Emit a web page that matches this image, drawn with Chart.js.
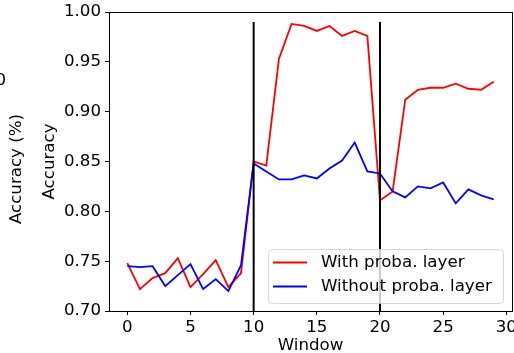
<!DOCTYPE html>
<html><head><meta charset="utf-8">
<script src="https://cdn.jsdelivr.net/npm/chart.js@4"></script>
<style>html,body{margin:0;padding:0;background:#fff;overflow:hidden}</style>
</head><body>
<canvas id="c" width="514" height="353"></canvas>
<script>
const windows = [0,1,2,3,4,5,6,7,8,9,10,11,12,13,14,15,16,17,18,19,20,21,22,23,24,25,26,27,28,29];
const withProba = [0.748,0.722,0.733,0.738,0.753,0.724,0.737,0.751,0.724,0.738,
                   0.850,0.846,0.953,0.988,0.986,0.981,0.986,0.976,0.981,0.976,
                   0.811,0.820,0.912,0.922,0.924,0.924,0.928,0.923,0.922,0.930];
const withoutProba = [0.745,0.744,0.745,0.725,0.736,0.747,0.722,0.732,0.720,0.746,
                      0.848,0.840,0.832,0.832,0.836,0.833,0.843,0.851,0.869,0.840,
                      0.838,0.820,0.814,0.825,0.823,0.829,0.808,0.822,0.816,0.812];
const boundaries = [10, 20];
const boundaryRange = [0.70, 0.99];
const xTicks = [0,5,10,15,20,25,30];
const yTicks = [0.70,0.75,0.80,0.85,0.90,0.95,1.00];
const seriesLabels = ['With proba. layer', 'Without proba. layer'];
const yTitle = 'Accuracy';
const xTitle = 'Window';
const strayLabel = 'Accuracy (%)';
const strayTick = '0';

const FS = 16.67;
const FONT = FS + "px 'DejaVu Sans'";
Chart.defaults.font.family = "'DejaVu Sans', sans-serif";
Chart.defaults.font.size = FS;
Chart.defaults.color = '#000';

const datasets = [
  ...boundaries.map(b => ({
    label: '_boundary', data: boundaryRange.map(v => ({x: b, y: v})),
    borderColor: '#000', borderWidth: 2, pointRadius: 0, order: 0, inLegend: false
  })),
  { label: seriesLabels[1], data: windows.map((w,i)=>({x:w,y:withoutProba[i]})),
    borderColor: '#0000ff', borderWidth: 1.8, pointRadius: 0, order: 1, inLegend: true, legendIdx: 1 },
  { label: seriesLabels[0], data: windows.map((w,i)=>({x:w,y:withProba[i]})),
    borderColor: '#ff0000', borderWidth: 1.8, pointRadius: 0, order: 2, inLegend: true, legendIdx: 0 }
];

const extras = {
  id: 'extras',
  afterDatasetsDraw(chart) {
    const ctx = chart.ctx;
    ctx.save();
    const bx = 268, by = 249, bw = 235, bh = 54, r = 4;
    ctx.beginPath();
    ctx.roundRect(bx + 0.5, by + 0.5, bw, bh, r);
    ctx.fillStyle = 'rgba(255,255,255,0.8)';
    ctx.fill();
    ctx.strokeStyle = 'rgba(204,204,204,0.8)';
    ctx.lineWidth = 1;
    ctx.stroke();
    const items = chart.data.datasets.filter(d => d.inLegend).sort((p,q)=>p.legendIdx-q.legendIdx);
    items.forEach((d, i) => {
      const y = 262.5 + i * 24;
      ctx.beginPath();
      ctx.moveTo(273, y); ctx.lineTo(307, y);
      ctx.strokeStyle = d.borderColor; ctx.lineWidth = 1.8; ctx.stroke();
      ctx.fillStyle = '#000';
      ctx.font = FONT;
      ctx.textAlign = 'left'; ctx.textBaseline = 'middle';
      ctx.fillText(d.label, 321, y);
    });
    ctx.restore();
  },
  afterDraw(chart) {
    const ctx = chart.ctx, a = chart.chartArea;
    ctx.save();
    ctx.strokeStyle = '#000'; ctx.lineWidth = 1;
    ctx.strokeRect(Math.round(a.left) + 0.5, Math.round(a.top) + 0.5, Math.round(a.right - a.left), Math.round(a.bottom - a.top));
    ctx.fillStyle = '#000';
    ctx.font = FONT;
    ctx.textBaseline = 'middle';
    ctx.textAlign = 'right';
    ctx.fillText(strayTick, 6, 80.5);
    ctx.translate(17, 169);
    ctx.rotate(-Math.PI/2);
    ctx.textAlign = 'center';
    ctx.fillText(strayLabel, 0, 0);
    ctx.restore();
  }
};

new Chart(document.getElementById('c'), {
  type: 'line',
  data: { datasets },
  options: {
    responsive: false, animation: false,
    layout: { padding: { left: 0, right: 2, top: 12, bottom: 0 } },
    plugins: { legend: { display: false }, tooltip: { enabled: false } },
    elements: { line: { tension: 0 } },
    scales: {
      x: {
        type: 'linear', min: -1.45, max: 30.45,
        afterBuildTicks: s => { s.ticks = xTicks.map(v => ({value: v})); },
        afterFit: s => { s.height = 42; s.paddingLeft = 0; s.paddingRight = 0; },
        ticks: { autoSkip: false, maxRotation: 0, padding: 3, callback: v => String(v) },
        grid: { display: true, drawOnChartArea: false, drawTicks: true, tickLength: 4, color: '#000' },
        border: { display: true, color: '#000', width: 1 },
        title: { display: true, text: xTitle, padding: { top: 0, bottom: -3 } }
      },
      y: {
        type: 'linear', min: 0.70, max: 1.00,
        afterBuildTicks: s => { s.ticks = yTicks.map(v => ({value: v})); },
        afterFit: s => { s.width = 109; s.paddingTop = 0; s.paddingBottom = 0; },
        ticks: { autoSkip: false, padding: 4, callback: v => Number(v).toFixed(2) },
        grid: { display: true, drawOnChartArea: false, drawTicks: true, tickLength: 4, color: '#000' },
        border: { display: true, color: '#000', width: 1 },
        title: { display: true, text: yTitle, padding: { top: 40, bottom: 0 } }
      }
    }
  },
  plugins: [extras]
});
</script>
</body></html>
